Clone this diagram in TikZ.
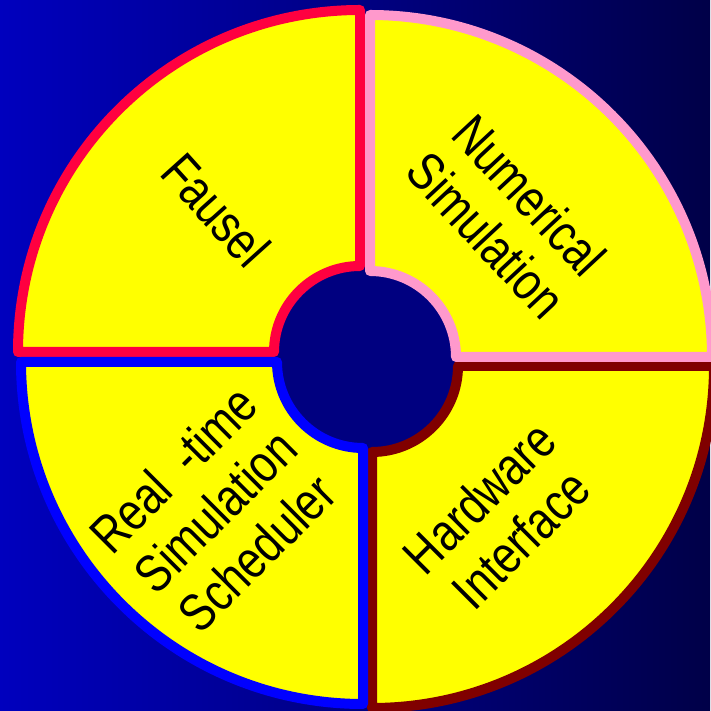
\documentclass[tikz,border=0pt]{standalone}
\usepackage{fontspec}
\newfontfamily\lab[FakeStretch=0.82]{Liberation Sans}
\definecolor{bgleft}{RGB}{0,0,190}
\definecolor{bgright}{RGB}{0,0,72}
\definecolor{hub}{RGB}{0,0,128}
\definecolor{qyellow}{RGB}{255,255,0}
\definecolor{qred}{RGB}{255,0,64}
\definecolor{qpink}{RGB}{255,153,204}
\definecolor{qmaroon}{RGB}{128,0,0}
\definecolor{qblue}{RGB}{0,0,255}
\tikzset{
  quad/.style={fill=qyellow, line width=10pt, line join=round},
  lbl/.style={inner sep=0pt, align=center, text=black, font=\lab\fontsize{53}{59}\selectfont}
}
\begin{document}
\begin{tikzpicture}[x=1pt,y=1pt]
\useasboundingbox (0,0) rectangle (710,711);
\shade[left color=bgleft, right color=bgright] (0,0) rectangle (710,711);
\fill[hub] (366,351) circle[radius=90];
% top-left
\begin{scope}[shift={(360,359)}]
\draw[quad, draw=qred] (0,86) -- (0,342) arc[start angle=90,end angle=180,radius=342] -- (-86,0) arc[start angle=180,end angle=90,radius=86] -- cycle;
\end{scope}
% bottom-right
\begin{scope}[shift={(372,345)}]
\draw[quad, draw=qmaroon] (0,-86) -- (0,-342) arc[start angle=270,end angle=360,radius=342] -- (86,0) arc[start angle=0,end angle=-90,radius=86] -- cycle;
\end{scope}
% top-right
\begin{scope}[shift={(370,354)}]
\draw[quad, draw=qpink] (0,86) -- (0,342) arc[start angle=90,end angle=0,radius=342] -- (86,0) arc[start angle=0,end angle=90,radius=86] -- cycle;
\end{scope}
% bottom-left
\begin{scope}[shift={(363,349)}]
\draw[quad, draw=qblue] (0,-86) -- (0,-342) arc[start angle=270,end angle=180,radius=342] -- (-86,0) arc[start angle=180,end angle=270,radius=86] -- cycle;
\end{scope}
\node[lbl, rotate=-48] (fausel) at (216,501) {Fausel};
\node[lbl, rotate=-47] (numsim) at (508,496) {Numerical\\Simulation};
\node[lbl, rotate=45] (hw) at (500,193) {Hardware\\Interface};
\node[lbl, rotate=45] (rt) at (215,200) {Real\hspace{0.45em}-time\\Simulation\\Scheduler};
\end{tikzpicture}
\end{document}
